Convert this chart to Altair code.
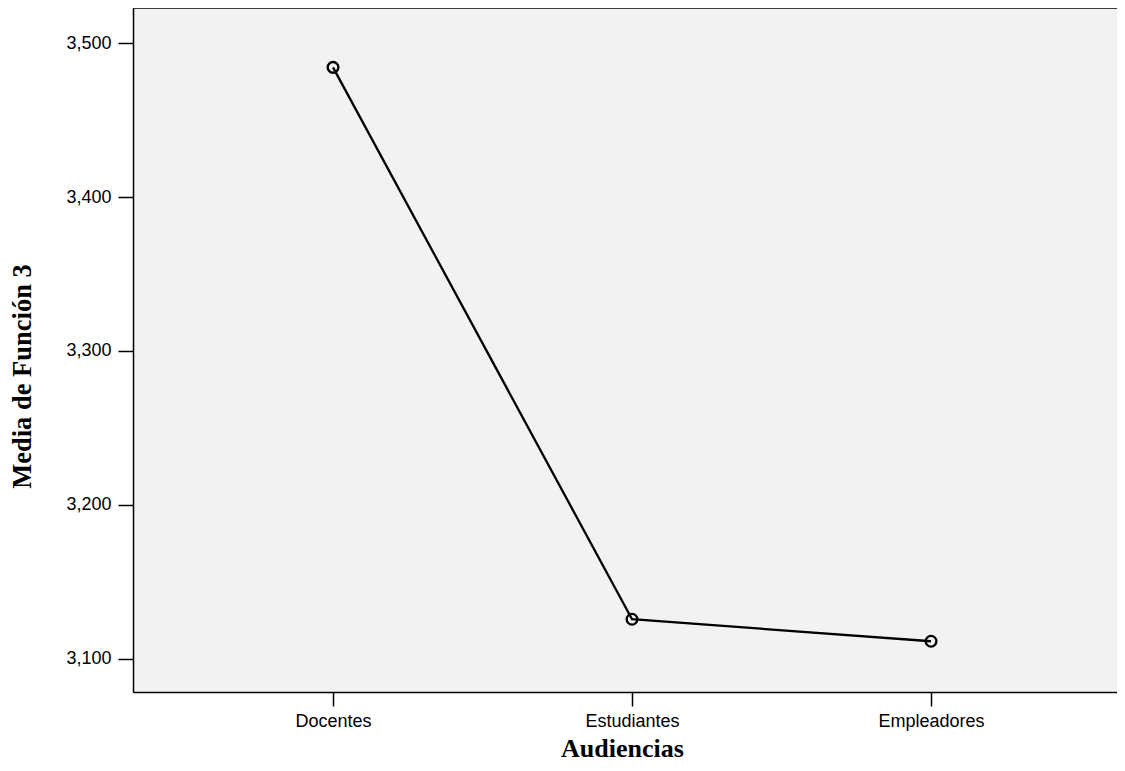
import json
import altair as alt
import pandas as pd

# Data
categories = ["Docentes", "Estudiantes", "Empleadores"]
means = [3.4844, 3.1256, 3.1113]
y_ticks = [3.1, 3.2, 3.3, 3.4, 3.5]

df = pd.DataFrame({
    "Audiencias": categories,
    "idx": list(range(len(categories))),
    "Media": means,
})

label_expr = json.dumps(categories) + "[datum.value]"

W, H = 984, 684

x_enc = alt.X(
    "idx:Q",
    scale=alt.Scale(domain=[-0.669, 2.622], nice=False, zero=False),
    axis=alt.Axis(
        values=list(range(len(categories))),
        labelExpr=label_expr,
        title="Audiencias",
        grid=False,
        labelAngle=0,
        labelFont="Liberation Sans",
        labelFontSize=18,
        labelColor="black",
        labelPadding=6,
        tickSize=14,
        tickWidth=1.5,
        tickColor="black",
        domainColor="black",
        domainWidth=1.5,
        titleFont="Liberation Serif",
        titleFontWeight="bold",
        titleFontSize=26,
        titleColor="black",
        titleX=489,
        titleY=64,
        titleAlign="center",
        titleBaseline="alphabetic",
    ),
)

y_enc = alt.Y(
    "Media:Q",
    scale=alt.Scale(domain=[3.0783, 3.523], nice=False, zero=False),
    axis=alt.Axis(
        values=y_ticks,
        labelExpr="replace(format(datum.value, '.3f'), '.', ',')",
        title="Media de Función 3",
        grid=False,
        labelFont="Liberation Sans",
        labelFontSize=18,
        labelColor="black",
        labelPadding=7,
        tickSize=15,
        tickWidth=1.5,
        tickColor="black",
        domainColor="black",
        domainWidth=1.5,
        titleFont="Liberation Serif",
        titleFontWeight="bold",
        titleFontSize=26.5,
        titleColor="black",
        titleAngle=270,
        titleX=-111,
        titleY=368,
        titleAlign="center",
        titleBaseline="middle",
    ),
)

base = alt.Chart(df)

line = base.mark_line(color="black", strokeWidth=2.3).encode(x=x_enc, y=y_enc)
points = base.mark_point(
    shape="circle", filled=False, size=115, strokeWidth=2.3, color="black", opacity=1
).encode(x=x_enc, y=y_enc)

top_border = alt.Chart(pd.DataFrame({"a": [0]})).mark_rule(
    color="black", strokeWidth=1.5
).encode(x=alt.value(0), x2=alt.value(W), y=alt.value(0))

chart = (
    alt.layer(line, points, top_border)
    .properties(
        width=W,
        height=H,
        autosize=alt.AutoSizeParams(type="none"),
        padding={"left": 125, "top": 0, "right": 0, "bottom": 71},
        background="white",
    )
    .configure_view(fill="#F2F2F2", strokeWidth=0)
)

chart.save("out.html", embed_options={"renderer": "svg", "actions": False})
